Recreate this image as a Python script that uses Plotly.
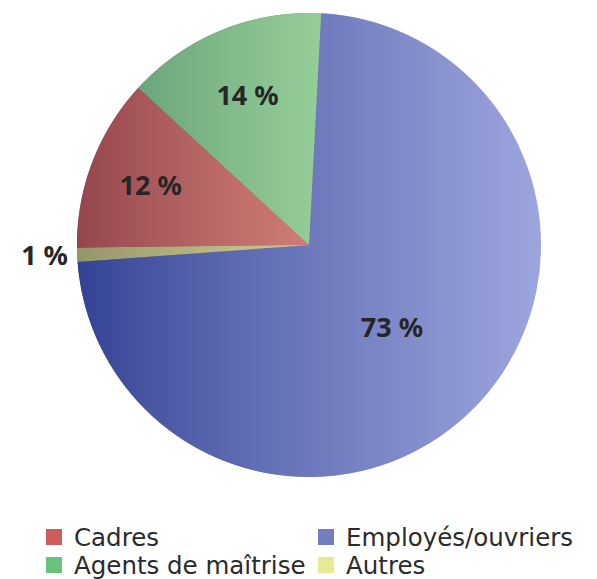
import base64
import struct
import zlib

import numpy as np
import plotly.graph_objects as go

# slice data, clockwise from just right of 12 o'clock
labels = ["Employés/ouvriers", "Autres", "Cadres", "Agents de maîtrise"]
values = [73, 1, 12, 14]
slice_colors = ["rgba(86,112,255,0.58)", "rgba(255,255,184,0.58)",
                "rgba(255,119,133,0.58)", "rgba(152,255,191,0.58)"]

# legend entries: one small legend each, laid out as two rows of two
legend_labels = ["Cadres", "Employés/ouvriers", "Agents de maîtrise", "Autres"]
legend_colors = ["#CD5C5C", "#737EBE", "#6BC27A", "#E8EB96"]

# the page body adds 8px around the figure, so the figure is 8px smaller than the window
W, H = 589, 571
CX, CY, R = 301, 237, 232


def shading_uri(n):
    """Dark-to-light ramp, cut to a disc, shown through the translucent slices."""
    yy, xx = np.mgrid[0:n, 0:n] + 0.5
    c = n / 2
    d = np.hypot(xx - c, yy - c)
    alpha = np.clip(c - d + 0.5, 0, 1) * 255
    t = np.clip(xx / n, 0, 1) ** 0.85
    rgba = np.stack([t * 255, t * 240, t * 175, alpha], axis=-1).astype(np.uint8)
    raw = b"".join(b"\x00" + row.tobytes() for row in rgba)

    def chunk(tag, data):
        return struct.pack(">I", len(data)) + tag + data + struct.pack(">I", zlib.crc32(tag + data) & 0xFFFFFFFF)

    png = (b"\x89PNG\r\n\x1a\n"
           + chunk(b"IHDR", struct.pack(">IIBBBBB", n, n, 8, 6, 0, 0, 0))
           + chunk(b"IDAT", zlib.compress(raw, 9))
           + chunk(b"IEND", b""))
    return "data:image/png;base64," + base64.b64encode(png).decode()


fig = go.Figure()
# domain is wider than the disc so the outside "1 %" label does not shrink the pie
half_w = W - CX
fig.add_trace(go.Pie(
    labels=labels, values=values, sort=False, direction="clockwise", rotation=3,
    marker=dict(colors=slice_colors, line=dict(width=0)),
    texttemplate="%{value} %", textposition=["inside", "outside", "inside", "inside"],
    insidetextorientation="horizontal",
    textfont=dict(family="Noto Sans", size=27, color="#262626", weight="bold"),
    domain=dict(x=[(CX - half_w) / W, 1], y=[1 - (CY + R) / H, 1 - (CY - R) / H]),
    showlegend=False, hoverinfo="label+percent",
))

legend_pos = [(26, 529), (298, 529), (26, 557), (298, 557)]  # px, figure coords
legends = {}
for i, (lab, col) in enumerate(zip(legend_labels, legend_colors)):
    key = "legend" if i == 0 else f"legend{i + 1}"
    fig.add_trace(go.Scatter(x=[None], y=[None], mode="markers", name=lab, legend=key,
                             marker=dict(symbol="square", size=17, color=col)))
    lx, ly = legend_pos[i]
    legends[key] = dict(orientation="h", x=lx / W, y=1 - ly / H, xanchor="left", yanchor="middle",
                        font=dict(family="DejaVu Sans", size=24.5, color="#2b2b2b"),
                        bgcolor="rgba(0,0,0,0)")

fig.add_layout_image(dict(
    source=shading_uri(2 * R), xref="paper", yref="paper",
    x=(CX - R) / W, y=1 - (CY - R) / H, sizex=2 * R / W, sizey=2 * R / H,
    xanchor="left", yanchor="top", sizing="stretch", layer="below",
))

fig.update_layout(
    width=W, height=H, margin=dict(l=0, r=0, t=0, b=0, autoexpand=False),
    paper_bgcolor="white", plot_bgcolor="white",
    xaxis=dict(visible=False), yaxis=dict(visible=False),
    **legends,
)

fig.write_html("out.html")
